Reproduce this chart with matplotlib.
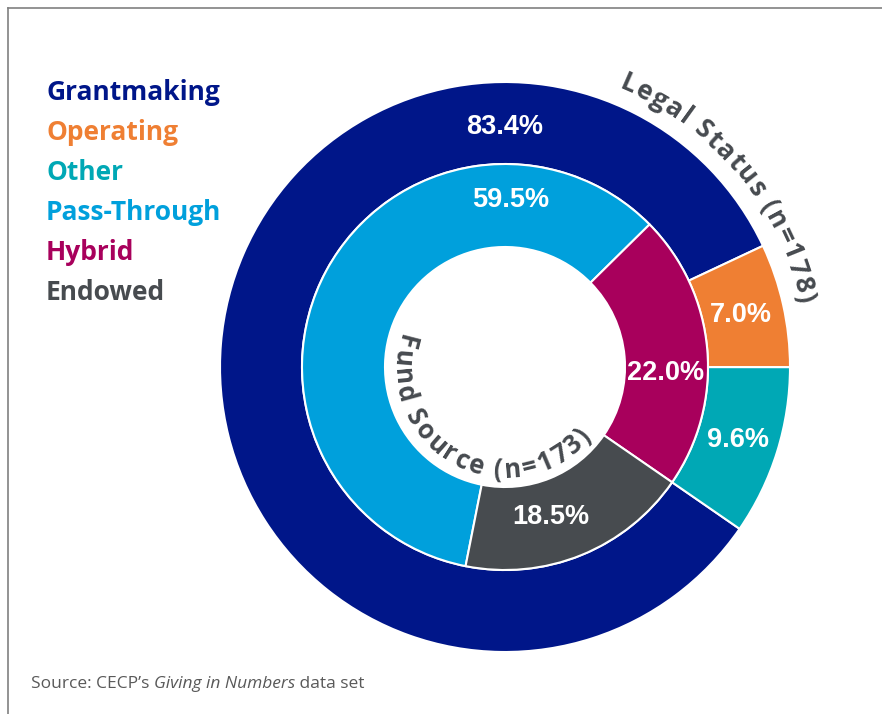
import numpy as np
import matplotlib
matplotlib.use('Agg')
import matplotlib.pyplot as plt
from matplotlib.font_manager import FontProperties

# outer ring: legal status
legal_labels = ['Grantmaking', 'Operating', 'Other']
legal_values = [83.4, 7.0, 9.6]
# inner ring: fund source
fund_labels = ['Pass-Through', 'Hybrid', 'Endowed']
fund_values = [59.5, 22.0, 18.5]

legal_colors = ['#001689', '#ef7f33', '#00a8b5']
fund_colors = ['#00a0dc', '#a8005c', '#474b4f']
text_gray = '#464a4f'

W, H = 882, 714
fig = plt.figure(figsize=(W / 100, H / 100), dpi=100)
ax = fig.add_axes([0, 0, 1, 1])

cx, cy = 505, H - 367
r_out, r_mid, r_in = 285, 203, 120

ax.pie(legal_values, colors=legal_colors, radius=r_out, center=(cx, cy),
       startangle=325.4, counterclock=False,
       wedgeprops=dict(width=r_out - r_mid, edgecolor='white', linewidth=1.5))
ax.pie(fund_values, colors=fund_colors, radius=r_mid, center=(cx, cy),
       startangle=258.8, counterclock=False,
       wedgeprops=dict(width=r_mid - r_in, edgecolor='white', linewidth=1.5))

ax.set_xlim(0, W)
ax.set_ylim(0, H)
ax.set_aspect('auto')
ax.axis('off')

# percentage labels (angle in degrees, radius in px)
legal_pos = [(90, 240), (12.4, 241), (-17.4, 244)]
fund_pos = [(88, 167), (-2, 161), (-73, 157)]
pct_font = dict(color='white', fontsize=19.5, fontweight='bold',
                family='Liberation Sans', ha='center', va='center')
for v, (a, r) in zip(legal_values, legal_pos):
    t = np.radians(a)
    ax.text(cx + r * np.cos(t), cy + r * np.sin(t), f'{v:.1f}%', **pct_font)
for v, (a, r) in zip(fund_values, fund_pos):
    t = np.radians(a)
    ax.text(cx + r * np.cos(t), cy + r * np.sin(t), f'{v:.1f}%', **pct_font)

# legend as coloured words
for i, (lab, col) in enumerate(zip(legal_labels + fund_labels, legal_colors + fund_colors)):
    ax.text(46, H - (100 + 40 * i), lab, color=col, fontsize=19,
            fontweight='bold', family='Open Sans', ha='left', va='baseline')


def curved_text(s, radius, mid_angle, outward, size, spacing):
    prop = FontProperties(family='Open Sans', weight='bold', size=size)
    rend = fig.canvas.get_renderer()
    widths = [rend.get_text_width_height_descent(s[:i], prop, ismath=False)[0] if i else 0
              for i in range(len(s) + 1)]
    total = widths[-1] + spacing * (len(s) - 1)
    for i, ch in enumerate(s):
        if ch == ' ':
            continue
        mid = (widths[i] + widths[i + 1]) / 2 + spacing * i - total / 2
        d = np.degrees(mid / radius)
        if outward:
            a = mid_angle - d
            rot = a - 90
        else:
            a = mid_angle + d
            rot = a + 90
        t = np.radians(a)
        ax.text(cx + radius * np.cos(t), cy + radius * np.sin(t), ch,
                fontproperties=prop, color=text_gray, rotation=rot,
                rotation_mode='anchor', ha='center', va='baseline')


curved_text('Legal Status (n=178)', 301, 40.0, True, 19, 1.6)
curved_text('Fund Source (n=173)', 111, 241.5, False, 18.5, 2.8)

src_font = dict(color='#595959', fontsize=12.5, family='Open Sans',
                ha='left', va='baseline')
src = ax.text(31, H - 688, 'Source: CECP\u2019s ', **src_font)
fig.canvas.draw()
bb = src.get_window_extent()
t2 = ax.text(bb.x1, H - 688, 'Giving in Numbers', style='italic', **src_font)
bb2 = t2.get_window_extent()
ax.text(bb2.x1, H - 688, ' data set', **src_font)

# frame lines at top and left
ax.plot([7.5, 7.5], [0, H - 7.5], color='#808080', lw=1.2)
ax.plot([7.5, W], [H - 7.5, H - 7.5], color='#808080', lw=1.2)

fig.savefig('out.png', dpi=100)
